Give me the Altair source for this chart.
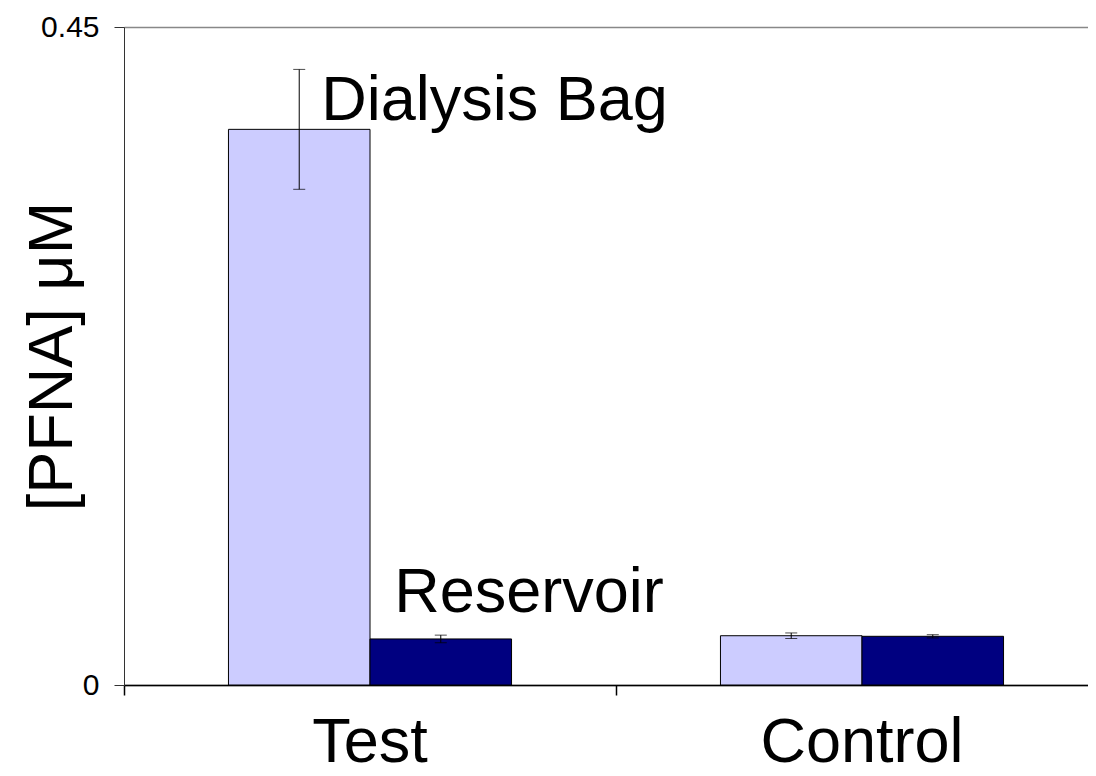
import altair as alt
import pandas as pd

categories = ["Test", "Test", "Control", "Control"]
series = ["Dialysis Bag", "Reservoir", "Dialysis Bag", "Reservoir"]
values = [0.380, 0.0315, 0.0337, 0.0333]
errors = [0.041, 0.0026, 0.0019, 0.0011]

ann_text = ["Dialysis Bag", "Reservoir"]
ann_category = ["Test", "Test"]
ann_series = ["Dialysis Bag", "Reservoir"]
ann_y = [0.3865, 0.0500]

cat_order = ["Test", "Control"]
ser_order = ["Dialysis Bag", "Reservoir"]
colors = ["#CCCCFF", "#000080"]

df = pd.DataFrame({"category": categories, "series": series, "value": values, "err": errors})
df["lo"] = df["value"] - df["err"]
df["hi"] = df["value"] + df["err"]
ann = pd.DataFrame({"text": ann_text, "category": ann_category, "series": ann_series, "y": ann_y})

FONT = "Liberation Sans"

xscale = alt.Scale(domain=cat_order, range=[0, 984], paddingInner=0, paddingOuter=0)
xoff_scale = alt.Scale(domain=ser_order, paddingInner=0, paddingOuter=0.738)
yscale = alt.Scale(domain=[0, 0.45], nice=False, zero=True)

x_enc = alt.X("category:N", scale=xscale, sort=cat_order,
              axis=alt.Axis(title=None, bandPosition=0, labelAngle=0, labelFontSize=63,
                            labelFont=FONT, labelColor="black", labelPadding=16,
                            labelLimit=0, labelOverlap=False,
                            tickSize=10, tickColor="black", domainColor="black",
                            domainWidth=1.5, tickWidth=1.5, grid=False))
xo_enc = alt.XOffset("series:N", scale=xoff_scale, sort=ser_order)

bars = alt.Chart(df).mark_bar(stroke="black", strokeWidth=1).encode(
    x=x_enc,
    xOffset=xo_enc,
    y=alt.Y("value:Q", scale=yscale,
            axis=alt.Axis(values=[0, 0.45], format="~g", title="[PFNA] μM",
                          titleFont=FONT, titleFontSize=63, titleFontWeight="normal",
                          titleColor="black", titleX=-53, titleY=329,
                          titleAngle=-90, titleBaseline="alphabetic",
                          labelFont=FONT, labelFontSize=30, labelColor="black",
                          labelPadding=15, tickSize=10, tickColor="#333",
                          domainColor="#333", grid=True, gridColor="#888",
                          gridWidth=1.5)),
    color=alt.Color("series:N", scale=alt.Scale(domain=ser_order, range=colors), legend=None),
)

rules = alt.Chart(df).mark_rule(color="black", strokeWidth=1).encode(
    x=alt.X("category:N", scale=xscale, sort=cat_order),
    xOffset=xo_enc,
    y=alt.Y("lo:Q", scale=yscale),
    y2="hi:Q",
)
caps_lo = alt.Chart(df).mark_tick(color="black", size=12, thickness=1).encode(
    x=alt.X("category:N", scale=xscale, sort=cat_order),
    xOffset=xo_enc,
    y=alt.Y("lo:Q", scale=yscale),
)
caps_hi = alt.Chart(df).mark_tick(color="black", size=12, thickness=1).encode(
    x=alt.X("category:N", scale=xscale, sort=cat_order),
    xOffset=xo_enc,
    y=alt.Y("hi:Q", scale=yscale),
)

def ann_layer(name, dx):
    return alt.Chart(ann).transform_filter(alt.datum.text == name).mark_text(
        align="left", baseline="alphabetic", font=FONT, fontSize=63, color="black", dx=dx
    ).encode(
        x=alt.X("category:N", scale=xscale, sort=cat_order),
        xOffset=xo_enc,
        y=alt.Y("y:Q", scale=yscale),
        text="text:N",
    )

chart = alt.layer(
    bars, rules, caps_lo, caps_hi,
    ann_layer("Dialysis Bag", 22), ann_layer("Reservoir", -46.5),
).properties(
    width=964, height=658,
    autosize=alt.AutoSizeParams(type="none"),
    padding={"left": 116, "top": 19, "right": 0, "bottom": 88},
).configure_view(stroke=None).configure(background="white")

chart.save("out.html", embed_options={"renderer": "svg", "actions": False})
